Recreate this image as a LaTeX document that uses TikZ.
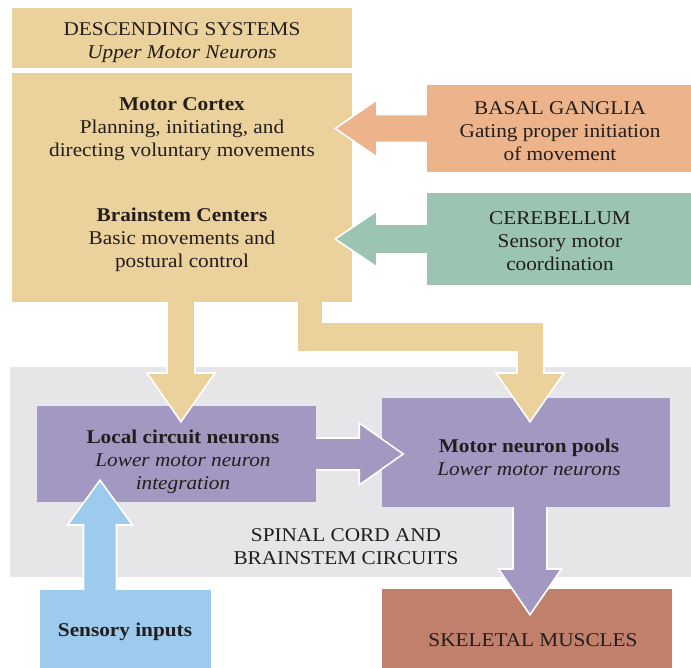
\documentclass[tikz,border=0pt]{standalone}
\usepackage{fontspec}
\setmainfont[FakeStretch=1.09]{Liberation Serif}
\usetikzlibrary{calc}
\definecolor{tan}{RGB}{235,209,156}
\definecolor{peach}{RGB}{237,180,140}
\definecolor{sage}{RGB}{155,196,178}
\definecolor{bggray}{RGB}{230,230,232}
\definecolor{lav}{RGB}{163,152,194}
\definecolor{sky}{RGB}{157,203,238}
\definecolor{rust}{RGB}{192,128,108}
\definecolor{ink}{RGB}{35,30,28}
\tikzset{
  box/.style={draw=none, inner sep=0pt, rectangle},
  txt/.style={align=center, text=ink, inner sep=0pt, font=\fontsize{19.5}{23}\selectfont},
  outl/.style={white, line width=1.6pt, line join=miter},
}
\newcommand\fatarr[2]{\fill[#1] #2 -- cycle; \draw[outl] #2;}
\begin{document}
\begin{tikzpicture}[x=1pt,y=-1pt]
\useasboundingbox (0,0) rectangle (691,668);
\fill[white] (0,0) rectangle (691,668);
% gray region
\node[box, fill=bggray, minimum width=681, minimum height=210] (spinal) at (350.5,472) {};
% boxes
\node[box, fill=tan, minimum width=340, minimum height=60] (top) at (182,38) {};
\node[box, fill=tan, minimum width=340, minimum height=229] (main) at (182,187.5) {};
\node[box, fill=peach, minimum width=264, minimum height=87] (bg) at (559,128.5) {};
\node[box, fill=sage, minimum width=264, minimum height=92] (cb) at (559,239) {};
\node[box, fill=lav, minimum width=279, minimum height=96] (local) at (176.5,454) {};
\node[box, fill=lav, minimum width=288, minimum height=109] (pools) at (526,452.5) {};
\node[box, fill=sky, minimum width=171, minimum height=80] (sens) at (125.5,630) {};
\node[box, fill=rust, minimum width=290, minimum height=81] (skel) at (527,629.5) {};
% arrows
\fatarr{peach}{($(bg.west)+(0,-14)$) -- ($(bg.west)+(-50,-14)$) -- ($(bg.west)+(-50,-28.5)$) -- ($(main.east|-bg.west)+(-17,0)$) -- ($(bg.west)+(-50,28.5)$) -- ($(bg.west)+(-50,14)$) -- ($(bg.west)+(0,14)$)}
\fatarr{sage}{($(cb.west)+(0,-15)$) -- ($(cb.west)+(-50,-15)$) -- ($(cb.west)+(-50,-28)$) -- ($(main.east|-cb.west)+(-17,0)$) -- ($(cb.west)+(-50,28)$) -- ($(cb.west)+(-50,15)$) -- ($(cb.west)+(0,15)$)}
\coordinate (m1) at (181,302);
\fatarr{tan}{($(m1)+(-14,0)$) -- ($(m1)+(-14,71)$) -- ($(m1)+(-34,71)$) -- ($(m1|-local.north)+(0,16)$) -- ($(m1)+(34,71)$) -- ($(m1)+(14,71)$) -- ($(m1)+(14,0)$)}
\coordinate (m2) at (310,302);
\coordinate (p2) at (530,302);
\fatarr{tan}{($(m2)+(-13,0)$) -- ($(m2)+(-13,50)$) -- ($(p2)+(-13,50)$) -- ($(p2)+(-13,71)$) -- ($(p2)+(-34,71)$) -- ($(p2|-pools.north)+(0,24)$) -- ($(p2)+(34,71)$) -- ($(p2)+(14,71)$) -- ($(p2)+(14,20)$) -- ($(m2)+(13,20)$) -- ($(m2)+(13,0)$)}
\coordinate (l1) at (local.east|-0,454);
\fatarr{lav}{($(l1)+(0,-16)$) -- ($(l1)+(43,-16)$) -- ($(l1)+(43,-31)$) -- ($(l1)+(87,0)$) -- ($(l1)+(43,31)$) -- ($(l1)+(43,16)$) -- ($(l1)+(0,16)$)}
\coordinate (s1) at (100,590);
\fatarr{sky}{($(s1)+(-16.5,0)$) -- ($(s1)+(-16.5,-65)$) -- ($(s1)+(-32.5,-65)$) -- ($(s1|-local.south)+(0,-22)$) -- ($(s1)+(32.5,-65)$) -- ($(s1)+(16.5,-65)$) -- ($(s1)+(16.5,0)$)}
\coordinate (k1) at (530,507);
\fatarr{lav}{($(k1)+(-17,0)$) -- ($(k1)+(-17,62)$) -- ($(k1)+(-31.5,62)$) -- ($(k1|-skel.north)+(0,26)$) -- ($(k1)+(31.5,62)$) -- ($(k1)+(17,62)$) -- ($(k1)+(17,0)$)}
% texts
\node[txt] (toptxt) at (182,42.5) {DESCENDING SYSTEMS\\\textit{Upper Motor Neurons}};
\node[txt] (mctxt) at (182,129.5) {\textbf{Motor Cortex}\\Planning, initiating, and\\directing voluntary movements};
\node[txt] (bstxt) at (182,240) {\textbf{Brainstem Centers}\\Basic movements and\\postural control};
\node[txt] (bgtxt) at (560,131) {BASAL GANGLIA\\Gating proper initiation\\of movement};
\node[txt] (cbtxt) at (560,241) {CEREBELLUM\\Sensory motor\\coordination};
\node[txt] (loctxt) at (183,462) {\textbf{Local circuit neurons}\\\textit{Lower motor neuron}\\\textit{integration}};
\node[txt] (pooltxt) at (529,457) {\textbf{Motor neuron pools}\\\textit{Lower motor neurons}};
\node[txt] (spintxt) at (346,547) {SPINAL CORD AND\\BRAINSTEM CIRCUITS};
\node[txt] (senstxt) at (125,632) {\textbf{Sensory inputs}};
\node[txt] (skeltxt) at (533,640) {SKELETAL MUSCLES};
\end{tikzpicture}
\end{document}
